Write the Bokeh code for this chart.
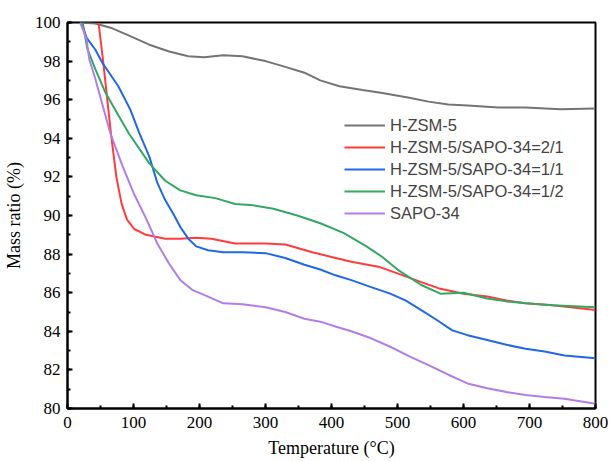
from bokeh.plotting import figure
from bokeh.models import Legend, LegendItem, FixedTicker, Range1d
from bokeh.embed import file_html
from bokeh.resources import INLINE

# H-ZSM-5
t_hz = [19, 42, 68, 101, 124, 154, 183, 207, 236, 265, 300, 330, 359, 383, 412, 447, 477, 518, 547, 577, 606, 653, 694, 747, 800]
m_hz = [100, 99.95, 99.7, 99.2, 98.85, 98.5, 98.25, 98.2, 98.3, 98.25, 98.0, 97.7, 97.4, 97.0, 96.7, 96.5, 96.35, 96.1, 95.9, 95.75, 95.7, 95.6, 95.6, 95.5, 95.55]
# H-ZSM-5/SAPO-34=2/1
t_21 = [47, 54, 66, 74, 82, 90, 101, 119, 148, 171, 195, 218, 254, 300, 330, 371, 400, 430, 471, 500, 536, 565, 600, 636, 665, 694, 735, 800]
m_21 = [100, 98.0, 94.2, 92.0, 90.6, 89.8, 89.3, 89.0, 88.8, 88.8, 88.85, 88.8, 88.55, 88.55, 88.5, 88.1, 87.85, 87.6, 87.35, 87.0, 86.55, 86.2, 85.95, 85.8, 85.6, 85.45, 85.35, 85.1]
# H-ZSM-5/SAPO-34=1/1
t_11 = [21, 29, 42, 53, 77, 95, 109, 124, 136, 148, 160, 171, 183, 195, 213, 236, 265, 300, 330, 359, 383, 406, 430, 459, 489, 512, 536, 559, 583, 606, 636, 665, 694, 723, 753, 800]
m_11 = [100, 99.2, 98.6, 97.9, 96.7, 95.5, 94.25, 93.05, 91.7, 90.8, 90.1, 89.4, 88.8, 88.4, 88.2, 88.1, 88.1, 88.05, 87.8, 87.45, 87.2, 86.9, 86.65, 86.3, 85.95, 85.6, 85.1, 84.6, 84.05, 83.8, 83.55, 83.3, 83.1, 82.95, 82.75, 82.6]
# H-ZSM-5/SAPO-34=1/2
t_12 = [23, 30, 42, 57, 77, 93, 124, 148, 171, 195, 224, 254, 277, 312, 348, 383, 418, 453, 477, 500, 536, 565, 600, 636, 665, 694, 735, 800]
m_12 = [100, 98.65, 97.6, 96.4, 95.2, 94.25, 92.7, 91.8, 91.3, 91.05, 90.9, 90.6, 90.55, 90.35, 90.0, 89.6, 89.1, 88.4, 87.85, 87.2, 86.4, 85.95, 86.0, 85.7, 85.55, 85.45, 85.35, 85.25]
# SAPO-34
t_sp = [19, 25, 29, 33, 42, 65, 83, 101, 119, 136, 154, 171, 189, 213, 236, 265, 300, 330, 359, 383, 406, 430, 459, 489, 518, 547, 577, 606, 636, 665, 694, 723, 753, 800]
m_sp = [100, 99.5, 99.1, 98.1, 97.1, 94.25, 92.6, 91.1, 89.85, 88.55, 87.5, 86.65, 86.15, 85.8, 85.45, 85.4, 85.25, 85.0, 84.65, 84.5, 84.25, 84.0, 83.65, 83.2, 82.7, 82.25, 81.75, 81.3, 81.05, 80.85, 80.7, 80.6, 80.5, 80.25]

labels = ["H-ZSM-5", "H-ZSM-5/SAPO-34=2/1", "H-ZSM-5/SAPO-34=1/1", "H-ZSM-5/SAPO-34=1/2", "SAPO-34"]
colors = ["#747474", "#ff3b3b", "#1f68e6", "#33a862", "#b37de8"]
x_ticks = [0, 100, 200, 300, 400, 500, 600, 700, 800]
y_ticks = [80, 82, 84, 86, 88, 90, 92, 94, 96, 98, 100]

p = figure(width=611, height=461, output_backend="svg", toolbar_location=None,
           x_range=Range1d(0, 800), y_range=Range1d(80, 100),
           min_border_left=65, min_border_top=22, min_border_right=16, min_border_bottom=53)
p.xgrid.visible = False
p.ygrid.visible = False
p.outline_line_color = "black"
p.outline_line_width = 2
p.background_fill_color = "white"
p.border_fill_color = "white"

series = [(t_hz, m_hz), (t_21, m_21), (t_11, m_11), (t_12, m_12), (t_sp, m_sp)]
renderers = []
for (t, m), c in zip(series, colors):
    renderers.append(p.line(t, m, line_color=c, line_width=2))

serif = "Liberation Serif"
for ax in (p.xaxis[0], p.yaxis[0]):
    ax.axis_line_width = 2
    ax.axis_line_color = "black"
    ax.major_tick_in = 5
    ax.major_tick_out = 0
    ax.minor_tick_in = 3
    ax.minor_tick_out = 0
    ax.major_tick_line_width = 2
    ax.minor_tick_line_width = 2
    ax.major_label_text_font = serif
    ax.major_label_text_font_size = "17px"
    ax.major_label_text_color = "black"
    ax.axis_label_text_font = serif
    ax.axis_label_text_font_style = "normal"
    ax.axis_label_text_font_size = "18px"
    ax.axis_label_text_color = "black"

p.xaxis.ticker = FixedTicker(ticks=x_ticks, minor_ticks=list(range(0, 801, 50)))
p.yaxis.ticker = FixedTicker(ticks=y_ticks, minor_ticks=list(range(80, 101, 1)))
p.xaxis.axis_label = "Temperature (°C)"
p.yaxis.axis_label = "Mass ratio (%)"
p.xaxis.major_label_standoff = 8
p.xaxis.axis_label_standoff = 7
p.yaxis.major_label_standoff = 7
p.yaxis.axis_label_standoff = 8

legend = Legend(items=[LegendItem(label=l, renderers=[r]) for l, r in zip(labels, renderers)],
                location=(277, 184), background_fill_alpha=0, border_line_color=None,
                label_text_font="Liberation Sans", label_text_font_size="16.5px",
                glyph_width=41, glyph_height=22, label_height=22, spacing=0,
                label_standoff=5, padding=0, margin=0)
p.add_layout(legend)

open("out.html", "w").write(file_html(p, INLINE))
